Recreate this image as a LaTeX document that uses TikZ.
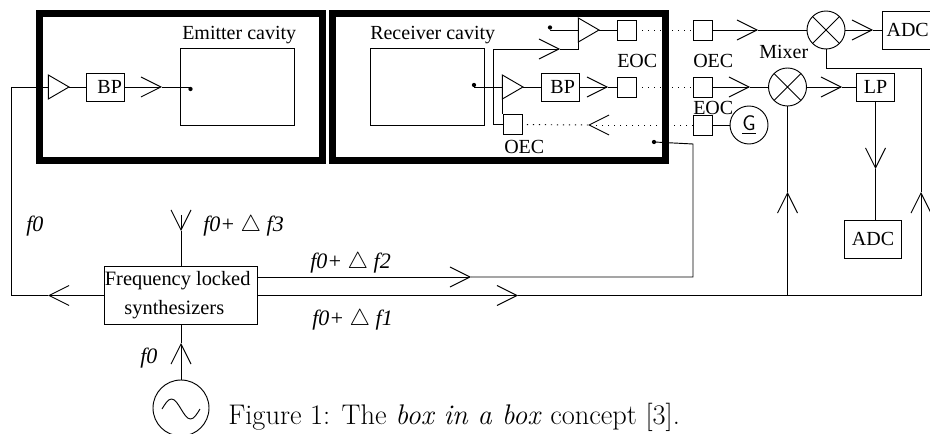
\documentclass[tikz,border=0pt]{standalone}
\usepackage{fontspec}
\usetikzlibrary{arrows.meta,shapes.geometric}
\newfontfamily\timesfont{Liberation Serif}
\tikzset{
    wire/.style = {line width=0.7pt},
    barb/.style = {-{Straight Barb[length=15pt,width=15pt,line width=0.7pt]}},
    tipped/.style = {wire,barb},
    dots/.style = {line width=0.7pt,dash pattern=on 0.9pt off 3.6pt},
    wall/.style = {draw,line width=5.25pt,minimum width=#1,minimum height=110pt,inner sep=0,outer sep=0},
    cavity/.style = {draw,line width=0.7pt,minimum width=85.5pt,minimum height=58pt,inner sep=0,outer sep=0},
    block/.style = {draw,line width=0.7pt,font=\timesfont\fontsize{15}{18}\selectfont,inner sep=0,outer sep=0,minimum width=28.5pt,minimum height=21pt},
    port/.style = {draw,line width=0.7pt,inner sep=0,outer sep=0,minimum width=14.25pt,minimum height=15pt},
    amp/.style = {draw,line width=0.7pt,isosceles triangle,isosceles triangle stretches,inner sep=0,outer sep=0,minimum width=18pt,minimum height=15.5pt},
    mixer/.style = {draw,circle,line width=0.7pt,inner sep=0,outer sep=0,minimum size=28.5pt},
    probe/.style = {circle,fill,inner sep=0,outer sep=0,minimum size=3.2pt},
    tag/.style = {anchor=base west,inner sep=0,font=\timesfont\fontsize{15}{18}\selectfont},
    freq/.style = {anchor=base west,inner sep=0,font=\timesfont\itshape\fontsize{16.5}{18}\selectfont}
}
\begin{document}
\begin{tikzpicture}[x=0.75pt,y=-0.75pt]
    \useasboundingbox (0,0) rectangle (930,434);
    \clip (0,0) rectangle (930,434);

    \node [cavity] (ecav) at (237.75,87) {};
    \node [tag] (ecavtext) at (182,40) {Emitter cavity};
    \node [cavity] (rcav) at (427.5,87) {};
    \node [tag] (rcavtext) at (370,40) {Receiver cavity};

    \node [amp,anchor=apex] (amp1) at (69,87) {};
    \node [block] (bp1) at (105,87) {\hspace*{7pt}BP};
    \node [probe] (dot1) at (190.5,89) {};
    \coordinate (in1) at (11,87);
    \coordinate (tip1) at (162,87);

    \node [probe] (dot2) at (474,85) {};
    \node [probe] (dot3) at (550,27.5) {};
    \node [probe] (dot4) at (654,142) {};
    \node [amp,anchor=apex] (amp2) at (523,87) {};
    \node [amp,anchor=apex] (amp3) at (599,30) {};
    \node [block] (bp2) at (560,87) {\hspace*{4pt}BP};
    \node [port] (eoc1) at (626.5,30) {};
    \node [port] (eoc2) at (626.5,87) {};
    \node [port] (oec1) at (702.5,30) {};
    \node [port] (oec2) at (702.5,87) {};
    \node [port] (eoc3) at (702.5,125) {};
    \node [port] (oec3) at (512.5,124.5) {};
    \node [mixer] (mix1) at (826,30) {};
    \node [mixer] (mix2) at (787.5,87) {};
    \node [mixer] (gen) at (749,125) {\sffamily\fontsize{16}{18}\selectfont\underline{G}};
    \node [block,minimum width=43.5pt,minimum height=28.5pt] (adc1) at (911,30) {ADC\hspace*{5pt}};
    \node [block] (lp) at (875.5,87) {LP};
    \node [block,minimum width=43pt,minimum height=28.5pt] (adc2) at (873,239) {ADC};

    \draw [wire] (mix1.45) -- (mix1.225) (mix1.135) -- (mix1.315);
    \draw [wire] (mix2.45) -- (mix2.225) (mix2.135) -- (mix2.315);

    \node [tag] (eoctext1) at (617,68) {EOC};
    \node [tag] (oectext1) at (693,68) {OEC};
    \node [tag] (mixtext) at (759,59) {Mixer};
    \node [tag] (eoctext2) at (693,115) {EOC};
    \node [tag] (oectext2) at (504,154) {OEC};

    \node [block,align=center,minimum width=114pt,minimum height=43pt,font=\timesfont\fontsize{15.3}{21.75}\selectfont] (synth) at (181,295.5) {Frequency locked\hspace*{5pt}\\[0pt]synthesizers\hspace*{10pt}};
    \node [draw,circle,line width=0.7pt,inner sep=0,outer sep=0,minimum size=42pt] (osc) at (181,408) {};
    \draw [wire] (162,409) sin (171.5,399) cos (181,409) sin (190.5,419) cos (200,409);

    \node [freq] (f0left) at (26,232) {f0};
    \node [freq] (f3text) at (203,232) {f0+ $\bigtriangleup$ f3};
    \node [freq] (f2text) at (310,268) {f0+ $\bigtriangleup$ f2};
    \node [freq] (f1text) at (312,325) {f0+ $\bigtriangleup$ f1};
    \node [freq] (f0bottom) at (140,363) {f0};

    \node [anchor=base west,inner sep=0,font=\fontsize{21.3}{24}\selectfont] (caption) at (228,424) {Figure 1: The \textit{box in a box} concept [3].};

    \coordinate (tip2) at (608,87);
    \coordinate (tip3) at (560,49);
    \coordinate (tip4) at (758,30);
    \coordinate (tip5) at (873,30);
    \coordinate (tip6) at (750,87);
    \coordinate (tip7) at (842,87);
    \coordinate (tip8) at (875.5,169);
    \coordinate (tip9) at (787.5,192);
    \coordinate (tip10) at (921,192);
    \coordinate (tip11) at (588,125);
    \coordinate (tip12) at (48,295.5);
    \coordinate (tip13) at (471,277);
    \coordinate (tip14) at (518,295.5);
    \coordinate (tip15) at (181,231);
    \coordinate (tip16) at (181,343);
    \coordinate (ant) at (181,215);
    \coordinate (joint1) at (787.5,295.5);
    \coordinate (joint2) at (921,295.5);
    \coordinate (bend1) at (921,68);
    \coordinate (bend2) at (693,144);
    \coordinate (feedlow) at (493,124.5);
    \coordinate (feedhigh) at (493,49);

    \draw [wire] (in1) |- (tip12);
    \draw [wire] (in1) -- (in1 -| amp1.left corner);
    \draw [wire] (amp1.apex) -- (bp1);
    \draw [tipped] (bp1) -- (tip1);
    \draw [wire] (tip1) -| (dot1.north);

    \draw [wire] (dot2.south) |- (amp2.apex -| amp2.left corner);
    \draw [wire] (amp2.apex) -- (bp2);
    \draw [tipped] (bp2) -- (tip2);
    \draw [wire] (tip2) -- (eoc2);
    \draw [dots] (eoc2) -- (oec2);
    \draw [tipped] (oec2) -- (tip6);
    \draw [wire] (tip6) -- (mix2);
    \draw [tipped] (mix2) -- (tip7);
    \draw [wire] (tip7) -- (lp);
    \draw [tipped] (lp) -- (tip8);
    \draw [wire] (tip8) -- (tip8 |- adc2.north);

    \draw [wire] (dot3.south) |- (amp3.apex -| amp3.left corner);
    \draw [wire] (amp3.apex) -- (eoc1);
    \draw [dots] (eoc1) -- (oec1);
    \draw [tipped] (oec1) -- (tip4);
    \draw [wire] (tip4) -- (mix1);
    \draw [tipped] (mix1) -- (tip5);
    \draw [wire] (tip5) -- (adc1);

    \draw [wire] (oec3) -- (feedlow) -- (feedhigh);
    \draw [tipped] (feedhigh) -- (tip3);
    \draw [wire] (tip3) -| (amp3.lower side);
    \draw [wire] (amp2.lower side) -- (amp2.lower side |- oec3.north);
    \draw [dots,barb] (eoc3) -- (tip11);
    \draw [dots] (tip11) -- (oec3);
    \draw [wire] (eoc3) -- (gen);

    \draw [wire] (mix1.south) |- (bend1) -- (tip10);
    \draw [wire] (mix2.south) -- (tip9);
    \draw [tipped] (joint1) -- (tip9);
    \draw [tipped] (joint2) -- (tip10);

    \draw [tipped] (synth.west |- tip12) -- (tip12);
    \draw [tipped] (synth.east |- tip13) -- (tip13);
    \draw [wire] (tip13) -| (bend2) -- (dot4);
    \draw [tipped] (synth.east |- tip14) -- (tip14);
    \draw [wire] (tip14) -- (joint2);

    \draw [tipped] (ant) -- (tip15);
    \draw [wire] (tip15) -- (synth.north);
    \draw [tipped] (osc.north) -- (tip16);
    \draw [wire] (tip16) -- (synth.south);

    \node [wall=212pt] (emitter) at (180.75,86.75) {};
    \node [wall=250pt] (receiver) at (499.25,86.75) {};
\end{tikzpicture}
\end{document}
